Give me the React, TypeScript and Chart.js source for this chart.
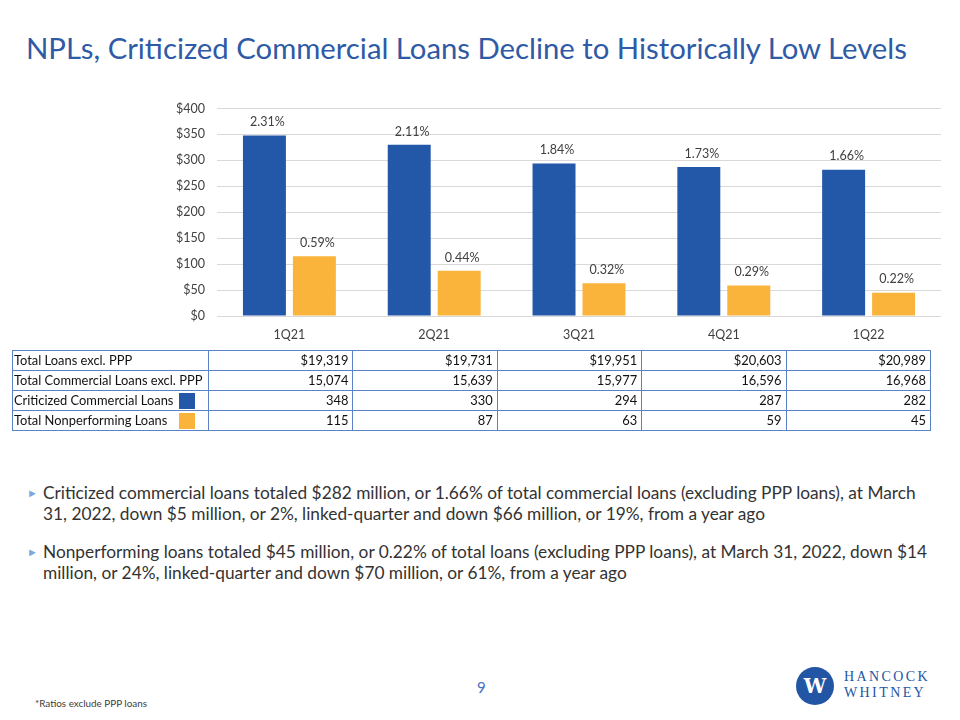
import React, { useEffect, useRef } from "react";
import { Chart, registerables } from "chart.js";

Chart.register(...registerables);

const quarters = ["1Q21", "2Q21", "3Q21", "4Q21", "1Q22"];
const criticized = [348, 330, 294, 287, 282];
const nonperforming = [115, 87, 63, 59, 45];
const criticizedRatio = ["2.31%", "2.11%", "1.84%", "1.73%", "1.66%"];
const nonperformingRatio = ["0.59%", "0.44%", "0.32%", "0.29%", "0.22%"];
const totalLoans = ["$19,319", "$19,731", "$19,951", "$20,603", "$20,989"];
const totalCommercial = ["15,074", "15,639", "15,977", "16,596", "16,968"];
const criticizedText = ["348", "330", "294", "287", "282"];
const nonperformingText = ["115", "87", "63", "59", "45"];

const BLUE = "#2357A8";
const ORANGE = "#FAB33B";
const FONT = "Lato, 'Open Sans', sans-serif";

const ratioLabels = [criticizedRatio, nonperformingRatio];

const labelPlugin = {
  id: "ratioLabels",
  afterDatasetsDraw(chart: any) {
    const ctx = chart.ctx;
    ctx.save();
    ctx.font = `12.5px ${FONT}`;
    ctx.fillStyle = "#404040";
    ctx.textAlign = "center";
    ctx.textBaseline = "bottom";
    chart.data.datasets.forEach((_ds: any, di: number) => {
      const meta = chart.getDatasetMeta(di);
      meta.data.forEach((bar: any, i: number) => {
        ctx.fillText(ratioLabels[di][i], bar.x + 3, bar.y - 7);
      });
    });
    ctx.restore();
  },
};

function BarChart() {
  const ref = useRef<HTMLCanvasElement>(null);
  useEffect(() => {
    if (!ref.current) return;
    const chart = new Chart(ref.current, {
      type: "bar",
      data: {
        labels: quarters,
        datasets: [
          {
            label: "Criticized Commercial Loans",
            data: criticized,
            backgroundColor: BLUE,
            barPercentage: 0.86,
            categoryPercentage: 0.69,
          },
          {
            label: "Total Nonperforming Loans",
            data: nonperforming,
            backgroundColor: ORANGE,
            barPercentage: 0.86,
            categoryPercentage: 0.69,
          },
        ],
      },
      options: {
        animation: false,
        responsive: true,
        maintainAspectRatio: false,
        layout: { padding: { top: 5, bottom: 4, left: 0, right: 0 } },
        plugins: { legend: { display: false }, tooltip: { enabled: false } },
        scales: {
          x: {
            grid: { display: false, drawTicks: false },
            border: { display: false },
            ticks: { color: "#404040", font: { family: FONT, size: 12.5 }, padding: 11 },
          },
          y: {
            min: 0,
            max: 400,
            grid: { color: "#D9D9D9", drawTicks: false },
            border: { display: false },
            afterFit: (scale: any) => {
              scale.width = 57;
            },
            ticks: {
              stepSize: 50,
              padding: 12,
              color: "#404040",
              font: { family: FONT, size: 12.5 },
              callback: (v: any) => "$" + v,
            },
          },
        },
      },
      plugins: [labelPlugin],
    });
    return () => chart.destroy();
  }, []);
  return (
    <div style={{ position: "absolute", left: 160, top: 89, width: 781, height: 268 }}>
      <canvas ref={ref} />
    </div>
  );
}

const rows: { label: string; values: string[]; swatch?: string }[] = [
  { label: "Total Loans excl. PPP", values: totalLoans },
  { label: "Total Commercial Loans excl. PPP", values: totalCommercial },
  { label: "Criticized Commercial Loans", values: criticizedText, swatch: BLUE },
  { label: "Total Nonperforming Loans", values: nonperformingText, swatch: ORANGE },
];

function DataTable() {
  const border = "1px solid #5B82C6";
  return (
    <table
      style={{
        position: "absolute",
        left: 12,
        top: 350,
        width: 918,
        borderCollapse: "collapse",
        tableLayout: "fixed",
        fontFamily: FONT,
        fontSize: 12.9,
        color: "#111",
      }}
    >
      <colgroup>
        <col style={{ width: 196 }} />
        {quarters.map((q) => (
          <col key={q} style={{ width: 144.4 }} />
        ))}
      </colgroup>
      <tbody>
        {rows.map((r) => (
          <tr key={r.label} style={{ height: 20 }}>
            <td style={{ border, padding: "0 1px", position: "relative", whiteSpace: "nowrap", lineHeight: "19px" }}>
              {r.label}
              {r.swatch && (
                <span
                  style={{
                    position: "absolute",
                    left: 166,
                    top: 2,
                    width: 16,
                    height: 16,
                    background: r.swatch,
                  }}
                />
              )}
            </td>
            {r.values.map((v, i) => (
              <td key={i} style={{ border, padding: "0 4px", textAlign: "right", lineHeight: "19px" }}>
                {v}
              </td>
            ))}
          </tr>
        ))}
      </tbody>
    </table>
  );
}

const bullets = [
  [
    "Criticized commercial loans totaled $282 million, or 1.66% of total commercial loans (excluding PPP loans), at March",
    "31, 2022, down $5 million, or 2%, linked-quarter and down $66 million, or 19%, from a year ago",
  ],
  [
    "Nonperforming loans totaled $45 million, or 0.22% of total loans (excluding PPP loans), at March 31, 2022, down $14",
    "million, or 24%, linked-quarter and down $70 million, or 61%, from a year ago",
  ],
];

export default function App() {
  return (
    <div
      style={{
        position: "absolute",
        left: 0,
        top: 0,
        width: 960,
        height: 720,
        background: "#fff",
        overflow: "hidden",
        fontFamily: FONT,
      }}
    >
      <div
        style={{
          position: "absolute",
          left: 26,
          top: 30,
          fontSize: 29.3,
          color: "#2E5AA6",
          whiteSpace: "nowrap",
          lineHeight: "36px",
        }}
      >
        NPLs, Criticized Commercial Loans Decline to Historically Low Levels
      </div>
      <BarChart />
      <DataTable />
      {bullets.map((lines, bi) => (
        <div key={bi} style={{ position: "absolute", left: 27, top: 482 + bi * 59 }}>
          <span style={{ position: "absolute", left: 0, top: 0, fontSize: 11, color: "#7FA8DA", lineHeight: "21px" }}>
            ►
          </span>
          {lines.map((l, li) => (
            <div
              key={li}
              style={{
                position: "absolute",
                left: 16,
                top: li * 21,
                whiteSpace: "nowrap",
                fontSize: 17.3,
                lineHeight: "21px",
                color: "#333",
              }}
            >
              {l}
            </div>
          ))}
        </div>
      ))}
      <div style={{ position: "absolute", left: 477, top: 678, fontSize: 15, color: "#4472C4" }}>9</div>
      <div style={{ position: "absolute", left: 35, top: 697, fontSize: 9.9, color: "#404040", whiteSpace: "nowrap" }}>
        *Ratios exclude PPP loans
      </div>
      <div
        style={{
          position: "absolute",
          left: 796,
          top: 667,
          width: 38,
          height: 38,
          borderRadius: "50%",
          background: "#2355A5",
          color: "#fff",
          fontFamily: "'DejaVu Serif', serif",
          fontWeight: "bold",
          fontSize: 20,
          lineHeight: "38px",
          textAlign: "center",
        }}
      >
        W
      </div>
      <div
        style={{
          position: "absolute",
          left: 844,
          top: 669,
          fontFamily: "'Liberation Serif', 'DejaVu Serif', serif",
          fontSize: 14,
          letterSpacing: 2.4,
          color: "#2355A5",
          lineHeight: "16px",
        }}
      >
        <div>HANCOCK</div>
        <div>WHITNEY</div>
      </div>
    </div>
  );
}
